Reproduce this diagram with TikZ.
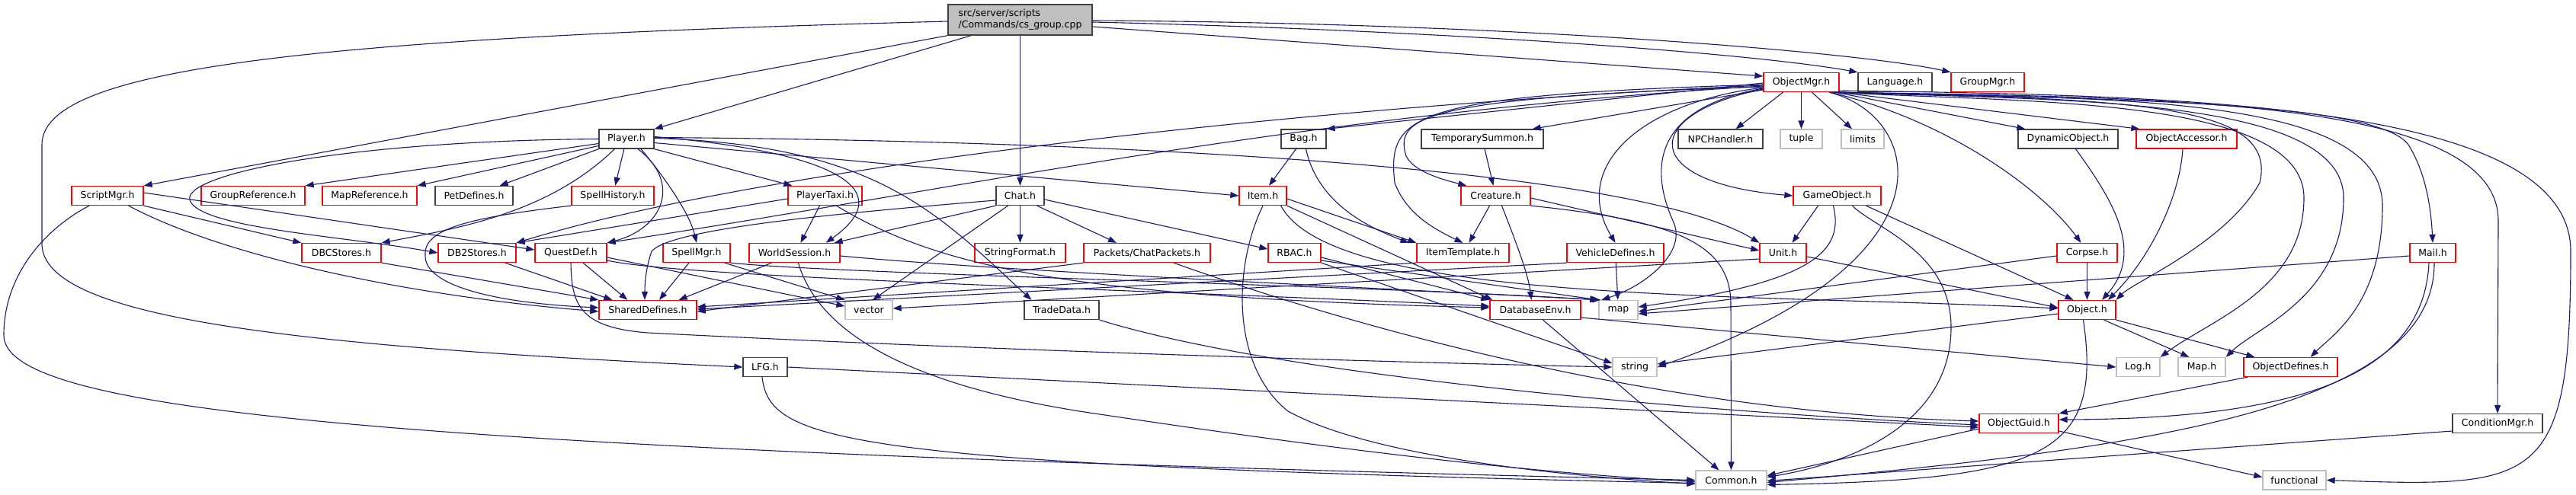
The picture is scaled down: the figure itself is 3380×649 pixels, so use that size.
\documentclass[tikz,border=0pt]{standalone}
\usepackage{fontspec}
\setmainfont{DejaVu Sans}
\usetikzlibrary{arrows.meta}
\definecolor{edgeblue}{HTML}{191970}
\definecolor{nodegrey}{HTML}{BFBFBF}
\definecolor{nodedark}{HTML}{404040}

\begin{document}
\begin{tikzpicture}[x=1pt,y=-1pt,
  hdr/.style={draw=nodedark,line width=1.3pt,fill=white,minimum height=25pt,inner sep=0pt,font=\fontsize{12.5}{15}\selectfont},
  hred/.style={hdr,draw=red},
  hsys/.style={hdr,draw=nodegrey},
  dep/.style={draw=edgeblue,line width=1.1pt,-{Triangle[length=11pt,width=8pt]}}]
  \fill[white] (0,0) rectangle (3380,649);
  \useasboundingbox (0,0) rectangle (3380,649);

	\node[hdr,fill=nodegrey,minimum width=189pt,minimum height=40pt,align=left] at (1338.5,26) (root) {src/server/scripts\\/Commands/cs\_group.cpp};
	\node[hred,minimum width=99pt] at (2363.5,108) (omgr) {ObjectMgr.h};
	\node[hdr,minimum width=97pt] at (2486.5,108) (language) {Language.h};
	\node[hred,minimum width=96pt] at (2608,108) (groupmgr) {GroupMgr.h};
	\node[hdr,minimum width=72pt] at (822,182.5) (player) {Player.h};
	\node[hdr,minimum width=59pt] at (1710.5,182.5) (bag) {Bag.h};
	\node[hdr,minimum width=160pt] at (1945,182.5) (tempsummon) {TemporarySummon.h};
	\node[hdr,minimum width=111pt] at (2257.5,182.5) (npchandler) {NPCHandler.h};
	\node[hsys,minimum width=55pt] at (2363.5,182.5) (tuple) {tuple};
	\node[hsys,minimum width=56pt] at (2444,182.5) (limits) {limits};
	\node[hdr,minimum width=131pt] at (2713.5,182.5) (dynobj) {DynamicObject.h};
	\node[hred,minimum width=132pt] at (2869,182.5) (objacc) {ObjectAccessor.h};
	\node[hred,minimum width=94pt] at (141,257) (scriptmgr) {ScriptMgr.h};
	\node[hred,minimum width=136pt] at (332,257) (groupref) {GroupReference.h};
	\node[hred,minimum width=124pt] at (485,257) (mapref) {MapReference.h};
	\node[hdr,minimum width=102pt] at (622,257) (petdef) {PetDefines.h};
	\node[hred,minimum width=108pt] at (804,257) (spellhist) {SpellHistory.h};
	\node[hred,minimum width=97pt] at (1082.5,257) (playertaxi) {PlayerTaxi.h};
	\node[hdr,minimum width=63pt] at (1338.5,257) (chat) {Chat.h};
	\node[hred,minimum width=62pt] at (1657,257) (item) {Item.h};
	\node[hred,minimum width=91pt] at (1962.5,257) (creature) {Creature.h};
	\node[hred,minimum width=115pt] at (2410.5,257) (gameobj) {GameObject.h};
	\node[hred,minimum width=104pt] at (448,332) (dbcstores) {DBCStores.h};
	\node[hred,minimum width=102pt] at (626,332) (db2stores) {DB2Stores.h};
	\node[hred,minimum width=94pt] at (749,332) (questdef) {QuestDef.h};
	\node[hred,minimum width=88pt] at (914,332) (spellmgr) {SpellMgr.h};
	\node[hred,minimum width=119pt] at (1042.5,332) (worldsession) {WorldSession.h};
	\node[hred,minimum width=119pt] at (1338.5,332) (stringformat) {StringFormat.h};
	\node[hred,minimum width=166pt] at (1505,332) (chatpackets) {Packets/ChatPackets.h};
	\node[hred,minimum width=69pt] at (1698.5,332) (rbac) {RBAC.h};
	\node[hred,minimum width=121pt] at (1919.5,332) (itemtemplate) {ItemTemplate.h};
	\node[hred,minimum width=127pt] at (2119.5,332) (vehicledef) {VehicleDefines.h};
	\node[hred,minimum width=61pt] at (2339.5,332) (unit) {Unit.h};
	\node[hred,minimum width=79pt] at (2738.5,332) (corpse) {Corpse.h};
	\node[hred,minimum width=60pt] at (3192,332) (mail) {Mail.h};
	\node[hred,minimum width=128pt] at (850,407) (shareddef) {SharedDefines.h};
	\node[hsys,minimum width=62pt] at (1140,407) (vector) {vector};
	\node[hdr,minimum width=98pt] at (1393,407) (tradedata) {TradeData.h};
	\node[hred,minimum width=119pt] at (2014.5,407) (dbenv) {DatabaseEnv.h};
	\node[hsys,minimum width=51pt] at (2123.5,407) (map) {map};
	\node[hred,minimum width=75pt] at (2738.5,407) (object) {Object.h};
	\node[hdr,minimum width=58pt] at (1004,482) (lfg) {LFG.h};
	\node[hsys,minimum width=58pt] at (2145,482) (string) {string};
	\node[hsys,minimum width=57pt] at (2805.5,482) (log) {Log.h};
	\node[hsys,minimum width=62pt] at (2889,482) (mapdoth) {Map.h};
	\node[hred,minimum width=123pt] at (3005.5,482) (objdef) {ObjectDefines.h};
	\node[hred,minimum width=104pt] at (2649,556) (objguid) {ObjectGuid.h};
	\node[hdr,minimum width=118pt] at (3277,556) (condmgr) {ConditionMgr.h};
	\node[hsys,minimum width=93pt] at (2271.5,630.5) (common) {Common.h};
	\node[hsys,minimum width=83pt] at (3010.5,630.5) (functional) {functional};

	\draw[dep] ([yshift=-2pt]root.west) .. controls (400,50) and (55,90) .. (55,190) -- (55,320) .. controls (55,420) and (400,455) .. (lfg.west);
	\draw[dep] (root.south west) -- (scriptmgr.north east);
	\draw[dep] ([xshift=31pt]root.south west) -- (player.north east);
	\draw[dep] (root) -- (chat);
	\draw[dep] ([yshift=-9pt]root.east) -- ([yshift=8pt]omgr.west);
	\draw[dep] ([yshift=-3pt]root.east) .. controls (1900,40) and (2300,70) .. (language.north west);
	\draw[dep] ([yshift=-1pt]root.east) .. controls (2000,30) and (2450,70) .. (groupmgr.north west);

	\draw[dep] (player.west) .. controls (450,185) and (230,230) .. (250,265) .. controls (270,300) and (450,310) .. (db2stores.west);
	\draw[dep] ([yshift=-6pt]player.west) -- (groupref.north east);
	\draw[dep] ([yshift=-9pt]player.west) -- (mapref.north east);
	\draw[dep] (player.south west) -- ([xshift=-18pt]petdef.north east);
	\draw[dep] (player) -- (spellhist);
	\draw[dep] ([xshift=21pt]player.south west) .. controls (720,280) and (600,300) .. (dbcstores.north east);
	\draw[dep] ([xshift=15pt]player.south) .. controls (895,240) and (870,300) .. (questdef.north east);
	\draw[dep] ([xshift=19pt]player.south) .. controls (870,230) and (905,280) .. (spellmgr.north);
	\draw[dep] (player.south east) -- ([xshift=6pt]playertaxi.north west);
	\draw[dep] ([yshift=3pt]player.east) .. controls (1100,200) and (1180,250) .. ([xshift=-19pt]worldsession.north east);
	\draw[dep] ([yshift=-5pt]player.east) -- (item.west);
	\draw[dep] ([yshift=1pt]player.east) .. controls (1150,190) and (1230,280) .. ([xshift=10pt]tradedata.north west);
	\draw[dep] ([yshift=2pt]player.east) .. controls (1500,185) and (2150,222) .. (unit.north west);

	\draw[dep] (spellhist.south west) .. controls (620,285) and (555,300) .. (558,335) .. controls (556,375) and (650,398) .. ([yshift=3pt]shareddef.west);
	\draw[dep] ([yshift=4pt]scriptmgr.east) -- ([yshift=4pt]questdef.west);
	\draw[dep] (scriptmgr.south east) -- (dbcstores.north west);
	\draw[dep] ([xshift=-20pt]scriptmgr.south east) .. controls (300,340) and (550,390) .. ([yshift=-2pt]shareddef.west);
	\draw[dep] ([xshift=-24pt]scriptmgr.south) .. controls (60,300) and (5,360) .. (5,440) .. controls (5,540) and (500,590) .. (common.west);
	\draw[dep] (dbcstores.south east) -- (shareddef.north west);
	\draw[dep] ([xshift=-15pt]db2stores.south east) -- ([xshift=18pt]shareddef.north west);

	\draw[dep] ([xshift=16pt]questdef.south) -- ([xshift=38pt]shareddef.north west);
	\draw[dep] ([yshift=-6pt]questdef.east) -- ([yshift=5pt]vector.west);
	\draw[dep] ([yshift=-10pt]questdef.east) .. controls (900,365) and (1500,380) .. ([yshift=5pt]dbenv.west);
	\draw[dep] (questdef.south) .. controls (750,400) and (760,430) .. (850,437) .. controls (1300,460) and (1800,475) .. (string.west);
	\draw[dep] ([xshift=-10pt]spellmgr.south) -- ([xshift=15pt]shareddef.north);
	\draw[dep] ([xshift=-8pt]spellmgr.south east) -- (vector.north west);
	\draw[dep] (spellmgr.south east) .. controls (1100,360) and (1800,375) .. (map.north west);
	\draw[dep] ([xshift=-30pt]worldsession.south) -- ([xshift=-24pt]shareddef.north east);
	\draw[dep] ([xshift=5pt]worldsession.south) .. controls (1075,440) and (1200,510) .. (1450,545) .. controls (1750,590) and (2000,620) .. ([yshift=-2pt]common.west);
	\draw[dep] ([yshift=-4pt]worldsession.east) .. controls (1300,355) and (1800,378) .. ([xshift=3pt]map.north west);
	\draw[dep] ([xshift=-7pt]playertaxi.south) -- ([xshift=8pt]worldsession.north);
	\draw[dep] ([yshift=-4pt]playertaxi.west) -- (db2stores.north east);
	\draw[dep] ([xshift=15pt]playertaxi.south) .. controls (1230,350) and (1400,390) .. ([yshift=3pt]dbenv.west);

	\draw[dep] (chat.south west) -- ([xshift=-8pt]worldsession.north east);
	\draw[dep] (chat) -- (stringformat);
	\draw[dep] ([xshift=-10pt]chat.south east) -- ([xshift=-40pt]chatpackets.north);
	\draw[dep] ([yshift=-5pt]chat.east) -- ([yshift=5pt]rbac.west);
	\draw[dep] ([xshift=-16pt]chat.south) -- ([xshift=5pt]vector.north);
	\draw[dep] ([yshift=-6pt]chat.west) .. controls (1100,280) and (880,300) .. (855,330) .. controls (848,350) and (846,370) .. ([xshift=-4pt]shareddef.north);
	\draw[dep] (chatpackets.south west) -- ([yshift=-2pt]shareddef.east);
	\draw[dep] ([xshift=35pt]chatpackets.south) .. controls (1750,420) and (2150,540) .. ([yshift=3pt]objguid.west);
	\draw[dep] ([yshift=-6pt]rbac.east) -- (dbenv.north west);
	\draw[dep] ([yshift=-10pt]rbac.east) -- (map.north west);
	\draw[dep] (rbac.south east) -- ([yshift=5pt]string.west);

	\draw[dep] ([yshift=-4pt]item.east) -- (itemtemplate.north west);
	\draw[dep] (item.south east) -- ([xshift=4pt]dbenv.north west);
	\draw[dep] ([xshift=-8pt]item.south east) .. controls (1750,400) and (2300,385) .. ([yshift=2pt]object.west);
	\draw[dep] (item.south) .. controls (1618,350) and (1615,480) .. (1690,540) .. controls (1800,600) and (2050,625) .. ([yshift=-5pt]common.west);
	\draw[dep] ([xshift=-10pt]bag.south) -- ([xshift=8pt]item.north);
	\draw[dep] ([xshift=3pt]bag.south) .. controls (1730,270) and (1800,300) .. ([xshift=-10pt]itemtemplate.north west);

	\draw[dep] ([yshift=-4pt]omgr.west) .. controls (1700,140) and (1000,220) .. (db2stores.north east);
	\draw[dep] ([yshift=-5pt]omgr.west) .. controls (1700,150) and (1250,250) .. (questdef.north east);
	\draw[dep] ([yshift=-1pt]omgr.west) -- (bag.north east);
	\draw[dep] ([yshift=-3pt]omgr.west) .. controls (1850,125) and (1820,150) .. (1830,240) .. controls (1845,280) and (1880,300) .. (itemtemplate.north);
	\draw[dep] ([yshift=-6pt]omgr.west) .. controls (1860,128) and (1830,155) .. (1845,205) .. controls (1855,225) and (1890,235) .. ([xshift=8pt]creature.north west);
	\draw[dep] ([yshift=-10pt]omgr.west) -- ([xshift=-15pt]tempsummon.north east);
	\draw[dep] ([yshift=-7pt]omgr.west) .. controls (2150,135) and (2060,220) .. (vehicledef.north);
	\draw[dep] ([yshift=-8pt]omgr.west) .. controls (2180,140) and (2160,210) .. (2195,290) .. controls (2215,330) and (2160,375) .. ([xshift=4pt]map.north west);
	\draw[dep] ([yshift=-9pt]omgr.west) .. controls (2150,150) and (2150,240) .. (gameobj.west);
	\draw[dep] ([xshift=-24pt]omgr.south) -- ([xshift=20pt]npchandler.north);
	\draw[dep] (omgr) -- (tuple);
	\draw[dep] ([xshift=14pt]omgr.south) -- ([xshift=-14pt]limits.north);
	\draw[dep] ([xshift=-6pt]omgr.south east) -- ([xshift=10pt]dynobj.north west);
	\draw[dep] ([xshift=-2pt]omgr.south east) -- ([xshift=5pt]objacc.north west);
	\draw[dep] ([xshift=-12pt]omgr.south east) .. controls (2560,160) and (2680,250) .. ([xshift=-8pt]corpse.north);
	\draw[dep] ([xshift=-14pt]omgr.south east) .. controls (2520,150) and (2580,340) .. (string.east);
	\draw[dep] ([xshift=-10pt]omgr.south east) .. controls (2800,130) and (2990,135) .. (2965,240) .. controls (2920,320) and (2800,370) .. (object.north east);
	\draw[dep] ([xshift=-8pt]omgr.south east) .. controls (2650,135) and (3023,125) .. (3023,260) .. controls (3023,380) and (2900,420) .. (log.north east);
	\draw[dep] ([xshift=-6pt]omgr.south east) .. controls (2700,132) and (3075,125) .. (3075,260) .. controls (3075,390) and (2960,430) .. (mapdoth.north east);
	\draw[dep] ([xshift=-4pt]omgr.south east) .. controls (2750,130) and (3126,120) .. (3126,270) .. controls (3126,400) and (3060,440) .. ([xshift=-36pt]objdef.north east);
	\draw[dep] ([xshift=-2pt]omgr.south east) .. controls (2800,130) and (3120,135) .. (3160,190) .. controls (3185,230) and (3190,280) .. (mail.north);
	\draw[dep] (omgr.south east) .. controls (2850,128) and (3278,130) .. (3278,290) -- (condmgr.north);
	\draw[dep] ([yshift=2pt]omgr.south east) .. controls (2900,125) and (3373,140) .. (3373,330) .. controls (3373,640) and (3330,640) .. (functional.east);

	\draw[dep] (tempsummon) -- (creature);
	\draw[dep] ([xshift=-8pt]creature.south) -- ([xshift=8pt]itemtemplate.north);
	\draw[dep] ([xshift=8pt]creature.south) .. controls (1990,320) and (2005,360) .. ([xshift=-5pt]dbenv.north);
	\draw[dep] ([yshift=-3pt]creature.east) -- ([yshift=3pt]unit.west);
	\draw[dep] (creature.south east) .. controls (2200,290) and (2271,320) .. (2271,400) -- (common.north);
	\draw[dep] ([xshift=-25pt]gameobj.south) -- ([xshift=12pt]unit.north);
	\draw[dep] ([xshift=38pt]gameobj.south) -- ([xshift=-18pt]object.north);
	\draw[dep] ([xshift=-5pt]gameobj.south) .. controls (2420,330) and (2380,370) .. ([yshift=4pt]map.east);
	\draw[dep] ([xshift=20pt]gameobj.south) .. controls (2460,300) and (2560,330) .. (2560,430) .. controls (2560,560) and (2420,610) .. ([yshift=4pt]common.east);
	\draw[dep] ([yshift=-5pt]unit.east) -- ([yshift=3pt]object.west);
	\draw[dep] ([yshift=-8pt]unit.west) -- ([yshift=2pt]vector.east);
	\draw[dep] (corpse) -- (object);
	\draw[dep] ([yshift=-4pt]corpse.west) -- ([yshift=-2pt]map.east);
	\draw[dep] ([xshift=10pt]dynobj.south) .. controls (2770,260) and (2815,330) .. ([xshift=19.5pt]object.north);
	\draw[dep] ([xshift=-5pt]objacc.south) .. controls (2860,260) and (2820,340) .. ([xshift=27.5pt]object.north);
	\draw[dep] ([xshift=-5pt]mail.south) .. controls (3180,500) and (3000,550) .. ([yshift=5pt]objguid.east);
	\draw[dep] ([xshift=2pt]mail.south) .. controls (3195,540) and (2800,590) .. ([yshift=-3pt]common.east);
	\draw[dep] ([yshift=-4pt]mail.west) -- ([yshift=-5pt]map.east);
	\draw[dep] (vehicledef) -- (map);
	\draw[dep] (vehicledef.south west) -- ([yshift=1pt]shareddef.east);
	\draw[dep] (itemtemplate.south west) -- ([yshift=4pt]shareddef.east);

	\draw[dep] ([xshift=10pt]dbenv.south) -- ([xshift=-16pt]common.north);
	\draw[dep] ([yshift=-10pt]dbenv.east) -- (log.west);
	\draw[dep] ([xshift=22pt]object.south) -- ([xshift=15pt]mapdoth.north west);
	\draw[dep] (object.south east) -- ([xshift=15pt]objdef.north west);
	\draw[dep] ([yshift=-5pt]object.west) -- ([yshift=4pt]string.east);
	\draw[dep] ([xshift=-5pt]object.south) .. controls (2760,600) and (2680,630) .. ([yshift=-6pt]common.east);
	\draw[dep] ([xshift=6pt]objdef.south west) -- (objguid.north east);
	\draw[dep] ([yshift=-7pt]objguid.west) -- ([yshift=6pt]common.east);
	\draw[dep] ([yshift=-10pt]objguid.east) -- ([yshift=4pt]functional.west);
	\draw[dep] ([yshift=-10pt]condmgr.west) -- ([yshift=-1pt]common.east);
	\draw[dep] (tradedata.south east) .. controls (1700,500) and (2300,545) .. ([yshift=-2pt]objguid.west);
	\draw[dep] (lfg.east) -- ([yshift=-5pt]objguid.west);
	\draw[dep] ([xshift=-4pt]lfg.south) .. controls (1010,580) and (1100,610) .. ([yshift=-4pt]common.west);
\end{tikzpicture}
\end{document}
